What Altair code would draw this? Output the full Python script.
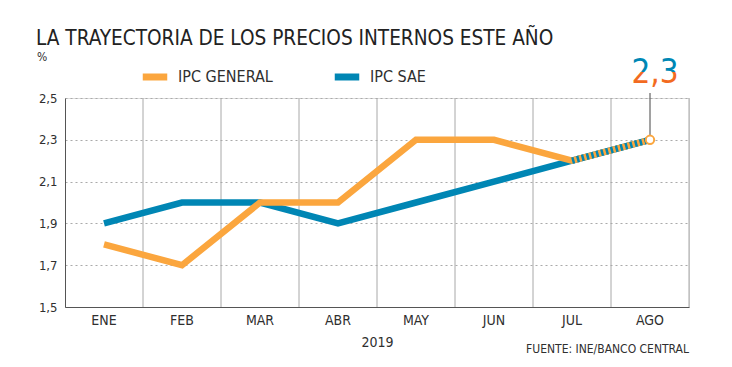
import altair as alt
import pandas as pd

months = ["ENE", "FEB", "MAR", "ABR", "MAY", "JUN", "JUL", "AGO"]
ipc_general = [1.8, 1.7, 2.0, 2.0, 2.3, 2.3, 2.2, 2.3]
ipc_sae = [1.9, 2.0, 2.0, 1.9, 2.0, 2.1, 2.2, 2.3]
series_names = ["IPC GENERAL", "IPC SAE"]
y_ticks = [1.5, 1.7, 1.9, 2.1, 2.3, 2.5]

ORANGE = "#FBA63E"
BLUE = "#0086B4"
TXT = "#2f2f2f"
FONT = "DejaVu Sans Condensed, sans-serif"

rows = []
for m, g, s in zip(months, ipc_general, ipc_sae):
    rows.append({"mes": m, "serie": "IPC GENERAL", "valor": g})
    rows.append({"mes": m, "serie": "IPC SAE", "valor": s})
df = pd.DataFrame(rows)
dfm = pd.DataFrame({"mes": months})
last = pd.DataFrame({"mes": [months[-1]], "valor": [ipc_general[-1]], "label": ["2,3"]})
seg = df[(df.serie == "IPC SAE") & (df.mes.isin(months[-2:]))]

W, H = 624, 209
BAND = W / len(months)

xscale = alt.Scale(domain=months, paddingInner=0, paddingOuter=0)
yscale = alt.Scale(domain=[1.5, 2.5])
cscale = alt.Scale(domain=series_names, range=[ORANGE, BLUE])

x_enc = alt.X("mes:N", scale=xscale, sort=months,
              axis=alt.Axis(title="2019", labelAngle=0, labelAlign="center",
                            ticks=False, grid=False,
                            domainColor="#555", labelFontSize=14, labelColor=TXT,
                            labelFont=FONT, labelPadding=13, titleFont=FONT,
                            titleFontSize=14, titleFontWeight="normal", titleColor=TXT,
                            titlePadding=8))
y_enc = alt.Y("valor:Q", scale=yscale,
              axis=alt.Axis(title=None, values=y_ticks, ticks=False, grid=True,
                            gridDash=[2, 3], gridColor="#aaa", gridWidth=1.2,
                            domainColor="#555", labelFontSize=13, labelColor=TXT,
                            labelFont=FONT, labelPadding=8,
                            labelExpr="replace(format(datum.value, '.1f'), '.', ',')"))

vgrid = alt.Chart(dfm).transform_filter(alt.datum.mes != months[0]).mark_rule(
    color="#a8a8a8", strokeWidth=1, xOffset=-BAND / 2).encode(
    x=alt.X("mes:N", scale=xscale, sort=months),
    y=alt.value(0), y2=alt.value(H))
redge = alt.Chart(dfm.head(1)).mark_rule(color="#a8a8a8", strokeWidth=1).encode(
    x=alt.value(W), y=alt.value(0), y2=alt.value(H))

base = alt.Chart(df)
line_sae = base.transform_filter(alt.datum.serie == "IPC SAE").mark_line(
    strokeWidth=6.5, strokeJoin="miter").encode(
    x=x_enc, y=y_enc,
    color=alt.Color("serie:N", scale=cscale, legend=alt.Legend(
        title=None, orient="none", legendX=74, legendY=-37, direction="horizontal",
        symbolType="stroke", symbolStrokeWidth=7, symbolSize=600,
        labelFont=FONT, labelFontSize=16, labelColor=TXT, labelOffset=7,
        columnPadding=47)))
line_gen = base.transform_filter(alt.datum.serie == "IPC GENERAL").mark_line(
    strokeWidth=6.5, strokeJoin="miter").encode(
    x=alt.X("mes:N", scale=xscale, sort=months), y=alt.Y("valor:Q", scale=yscale),
    color=alt.Color("serie:N", scale=cscale))
stripes = alt.Chart(seg).mark_line(strokeWidth=6.5, strokeDash=[2.5, 2.5], color=BLUE,
                                   strokeCap="butt").encode(
    x=alt.X("mes:N", scale=xscale, sort=months), y=alt.Y("valor:Q", scale=yscale))

connector = alt.Chart(last).mark_rule(color="#444", strokeWidth=1).encode(
    x=alt.X("mes:N", scale=xscale, sort=months), y=alt.Y("valor:Q", scale=yscale),
    y2=alt.value(-5))
endpt = alt.Chart(last).mark_point(shape="circle", size=70, filled=True, fill="white",
                                   stroke=ORANGE, strokeWidth=2, opacity=1).encode(
    x=alt.X("mes:N", scale=xscale, sort=months), y=alt.Y("valor:Q", scale=yscale))
grad = alt.LinearGradient(gradient="linear", x1=0.5, x2=0.5, y1=0.001, y2=1, stops=[
    alt.GradientStop(color=BLUE, offset=0), alt.GradientStop(color=BLUE, offset=0.5),
    alt.GradientStop(color="#F26A21", offset=0.5), alt.GradientStop(color="#F26A21", offset=1)])
bigval = alt.Chart(last).mark_text(fontSize=33, font=FONT, baseline="bottom", dx=5,
                                   dy=0, color=grad).encode(
    x=alt.X("mes:N", scale=xscale, sort=months), y=alt.value(-8), text="label:N")

title = alt.Chart(dfm.head(1)).mark_text(
    text="LA TRAYECTORIA DE LOS PRECIOS INTERNOS ESTE AÑO", fontSize=20.6, font=FONT,
    color="#222", align="left", baseline="alphabetic").encode(
    x=alt.value(-29), y=alt.value(-53))
pct = alt.Chart(dfm.head(1)).mark_text(text="%", fontSize=12, font=FONT, color=TXT,
                                       align="left", baseline="middle").encode(
    x=alt.value(-28), y=alt.value(-41))
src = alt.Chart(dfm.head(1)).mark_text(text="FUENTE: INE/BANCO CENTRAL", fontSize=12,
                                       font=FONT, color=TXT, align="right",
                                       baseline="middle").encode(
    x=alt.value(W), y=alt.value(H + 42))

chart = alt.layer(vgrid, redge, line_sae, line_gen, stripes, connector, endpt, bigval,
                  title, pct, src).properties(
    width=W, height=H,
    autosize=alt.AutoSizeParams(type="none"),
    padding={"left": 57, "top": 90, "right": 35, "bottom": 52},
).configure_view(stroke=None).configure(background="white")

chart.save("out.html", embed_options={"renderer": "svg", "actions": False})
